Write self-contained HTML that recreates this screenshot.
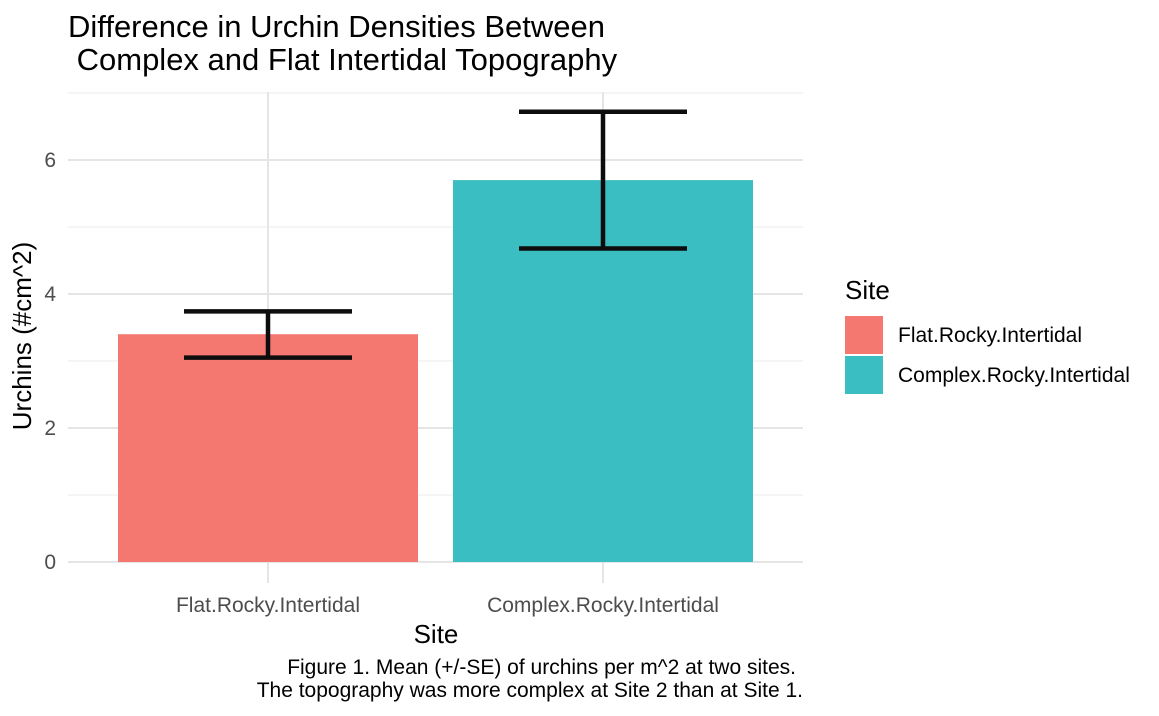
<!DOCTYPE html>
<html><head><meta charset="utf-8"><style>
html,body{margin:0;padding:0;background:#fff;}
svg{display:block;font-family:"Liberation Sans",Arial,sans-serif;}
</style></head><body>
<svg id="chart" width="1159" height="716" viewBox="0 0 1159 716">
<text x="68" y="37" font-size="31" fill="#000">Difference in Urchin Densities Between</text>
<text x="68" y="70" font-size="31" fill="#000">&#160;Complex and Flat Intertidal Topography</text>
<g id="grid"></g>
<g id="bars"></g>
<g id="errs"></g>
<g id="yticks"></g>
<g id="xticks"></g>
<text x="436" y="643" font-size="26" text-anchor="middle" fill="#000">Site</text>
<text transform="translate(31,336) rotate(-90)" font-size="26" text-anchor="middle" fill="#000">Urchins (#cm^2)</text>
<g>
<text x="845" y="299" font-size="26" fill="#000">Site</text>
<rect x="845" y="316" width="38" height="38" fill="#F47770"/>
<text x="898" y="342" font-size="21" fill="#000">Flat.Rocky.Intertidal</text>
<rect x="845" y="356" width="38" height="38" fill="#3ABEC2"/>
<text x="898" y="382" font-size="21" fill="#000">Complex.Rocky.Intertidal</text>
</g>
<text x="796" y="674" font-size="21" text-anchor="end" fill="#000">Figure 1. Mean (+/-SE) of urchins per m^2 at two sites.</text>
<text x="803" y="697" font-size="21" text-anchor="end" fill="#000">The topography was more complex at Site 2 than at Site 1.</text>
</svg>
<script>
const categories = ["Flat.Rocky.Intertidal", "Complex.Rocky.Intertidal"];
const means = [3.4, 5.7];
const upper = [3.74, 6.72];
const lower = [3.05, 4.68];
const yTicks = [0, 2, 4, 6];
const yMinor = [1, 3, 5, 7];
const colors = ["#F47770", "#3ABEC2"];

const NS = "http://www.w3.org/2000/svg";
const px0 = 68, px1 = 803;
function y(v){ return 562 - v * 67; }
function xc(i){ return 268 + i * 335; }
function mk(tag, attrs, parent){ const e = document.createElementNS(NS, tag); for (const k in attrs) e.setAttribute(k, attrs[k]); parent.appendChild(e); return e; }

const grid = document.getElementById('grid');
yMinor.forEach(v => {
  const l = mk('line', {x1:px0, x2:px1, y1:y(v), y2:y(v), stroke:'#ebebeb', 'stroke-width':1}, grid);
  
  
});
yTicks.forEach(v => {
  const l = mk('line', {x1:px0, x2:px1, y1:y(v), y2:y(v), stroke:'#e5e5e5', 'stroke-width':2}, grid);
  
  
});
categories.forEach((c, i) => {
  const l = mk('line', {x1:xc(i), x2:xc(i), y1:92, y2:583, stroke:'#e5e5e5', 'stroke-width':2}, grid);
  
  
});

const bars = document.getElementById('bars');
const errs = document.getElementById('errs');
categories.forEach((c, i) => {
  const b = mk('rect', {x:xc(i)-150, y:y(means[i]), width:300, height:y(0)-y(means[i]), fill:colors[i]}, bars);
  
  
  const g = mk('g', {stroke:'#0d0d0d', 'stroke-width':4.5, fill:'none'}, errs);
  
  
  mk('line', {x1:xc(i), x2:xc(i), y1:y(upper[i]), y2:y(lower[i])}, g);
  mk('line', {x1:xc(i)-84, x2:xc(i)+84, y1:y(upper[i]), y2:y(upper[i])}, g);
  mk('line', {x1:xc(i)-84, x2:xc(i)+84, y1:y(lower[i]), y2:y(lower[i])}, g);
  const t = mk('text', {x:xc(i), y:612, 'font-size':21, 'text-anchor':'middle', fill:'#4d4d4d'}, document.getElementById('xticks'));
  t.textContent = c;
  
  
});
yTicks.forEach(v => {
  const t = mk('text', {x:56, y:y(v)+7, 'font-size':21, 'text-anchor':'end', fill:'#4d4d4d'}, document.getElementById('yticks'));
  t.textContent = v;
  
  
});
</script>
</body></html>
